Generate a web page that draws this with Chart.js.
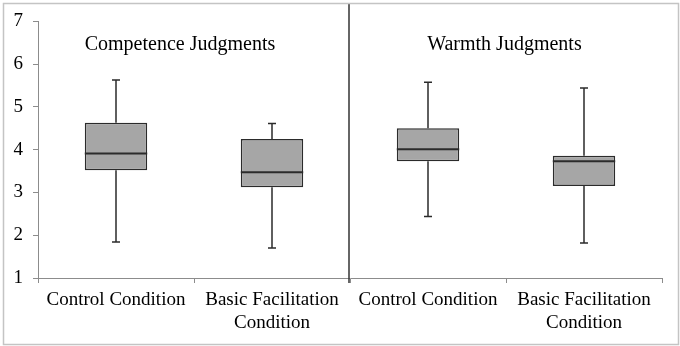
<!DOCTYPE html>
<html lang="en">
<head>
  <meta charset="UTF-8" />
  <title>Competence and Warmth Judgments</title>
  <script src="https://cdn.jsdelivr.net/npm/chart.js"></script>
  <style>
    html, body { margin: 0; padding: 0; background: #fff; }
    #wrap { width: 680px; height: 346px; position: relative; }
  </style>
</head>
<body>
  <div id="wrap"><canvas id="boxChart" width="680" height="346"></canvas></div>

  <script>
    // categories (x axis) and panel titles
    const categories = ["Control Condition", ["Basic Facilitation", "Condition"], "Control Condition", ["Basic Facilitation", "Condition"]];
    const panelTitles = ["Competence Judgments", "Warmth Judgments"];

    // box plot values
    const whiskerMin = [1.84, 1.70, 2.44, 1.82];
    const quartile1  = [3.52, 3.12, 3.73, 3.15];
    const medians    = [3.91, 3.47, 4.01, 3.73];
    const quartile3  = [4.63, 4.25, 4.50, 3.86];
    const whiskerMax = [5.63, 4.61, 5.58, 5.44];

    const yTicks = [1, 2, 3, 4, 5, 6, 7];

    const FONT = "'Liberation Serif', 'Times New Roman', serif";
    const lineColor = "#2b2b2b";
    const axisColor = "#8c8c8c";

    // whiskers, caps, medians, panel divider, titles, outer frame
    const boxExtras = {
      id: "boxExtras",
      beforeDatasetsDraw(chart) {
        const { ctx, scales: { x, y } } = chart;
        const meta = chart.getDatasetMeta(0);
        ctx.save();
        ctx.strokeStyle = lineColor;
        ctx.lineWidth = 1.5;
        meta.data.forEach((bar, i) => {
          const cx = x.getPixelForValue(i);
          const cap = 4;
          ctx.beginPath();
          ctx.moveTo(cx, y.getPixelForValue(whiskerMax[i]));
          ctx.lineTo(cx, y.getPixelForValue(quartile3[i]));
          ctx.moveTo(cx, y.getPixelForValue(quartile1[i]));
          ctx.lineTo(cx, y.getPixelForValue(whiskerMin[i]));
          ctx.moveTo(cx - cap, y.getPixelForValue(whiskerMax[i]));
          ctx.lineTo(cx + cap, y.getPixelForValue(whiskerMax[i]));
          ctx.moveTo(cx - cap, y.getPixelForValue(whiskerMin[i]));
          ctx.lineTo(cx + cap, y.getPixelForValue(whiskerMin[i]));
          ctx.stroke();
        });
        ctx.restore();
      },
      afterDatasetsDraw(chart) {
        const { ctx, chartArea, scales: { x, y } } = chart;
        const meta = chart.getDatasetMeta(0);
        ctx.save();
        ctx.strokeStyle = lineColor;
        ctx.lineWidth = 2;
        meta.data.forEach((bar, i) => {
          const half = bar.width / 2;
          const my = y.getPixelForValue(medians[i]);
          ctx.beginPath();
          ctx.moveTo(bar.x - half, my);
          ctx.lineTo(bar.x + half, my);
          ctx.stroke();
        });

        // divider between the two panels
        const midX = (x.getPixelForValue(1) + x.getPixelForValue(2)) / 2 - 1;
        ctx.strokeStyle = "#333";
        ctx.lineWidth = 1.5;
        ctx.beginPath();
        ctx.moveTo(midX, 4);
        ctx.lineTo(midX, chartArea.bottom + 5);
        ctx.stroke();

        // panel titles
        ctx.fillStyle = "#000";
        ctx.font = "20px " + FONT;
        ctx.textAlign = "center";
        ctx.textBaseline = "alphabetic";
        const ty = y.getPixelForValue(6.33);
        ctx.fillText(panelTitles[0], x.getPixelForValue(0.41), ty);
        ctx.fillText(panelTitles[1], x.getPixelForValue(2.49), ty);

        // outer frame
        ctx.strokeStyle = "#c4c4c4";
        ctx.lineWidth = 1.5;
        ctx.strokeRect(3.5, 3.5, chart.width - 5, chart.height - 5);
        ctx.restore();
      }
    };

    function drawChart() {
      const chartCtx = document.getElementById("boxChart").getContext("2d");
      new Chart(chartCtx, {
        type: "bar",
        data: {
          labels: categories,
          datasets: [{
            data: quartile1.map((q, i) => [q, quartile3[i]]),
            backgroundColor: "#a6a6a6",
            borderColor: lineColor,
            borderWidth: 1.5,
            borderSkipped: false,
            barPercentage: 0.4,
            categoryPercentage: 1
          }]
        },
        options: {
          responsive: false,
          animation: false,
          devicePixelRatio: 1,
          layout: { padding: { top: 20, right: 18, left: 0, bottom: 0 } },
          plugins: { legend: { display: false }, tooltip: { enabled: false } },
          scales: {
            x: {
              offset: true,
              grid: { offset: true, drawOnChartArea: false, drawTicks: true, tickLength: 5, color: axisColor, lineWidth: 1 },
              border: { color: axisColor, width: 1 },
              ticks: { color: "#000", font: { family: FONT, size: 19 }, padding: 6, maxRotation: 0, autoSkip: false },
              afterFit(scale) { scale.height = 68; }
            },
            y: {
              min: 1,
              max: 7,
              afterBuildTicks(scale) { scale.ticks = yTicks.map(v => ({ value: v })); },
              grid: { drawOnChartArea: false, drawTicks: true, tickLength: 5, color: axisColor, lineWidth: 1 },
              border: { color: axisColor, width: 1 },
              ticks: { color: "#000", font: { family: FONT, size: 19 }, padding: 10 },
              afterFit(scale) { scale.width = 38; }
            }
          }
        },
        plugins: [boxExtras]
      });
    }

    document.fonts.load("19px 'Liberation Serif'").then(drawChart, drawChart);
  </script>
</body>
</html>
